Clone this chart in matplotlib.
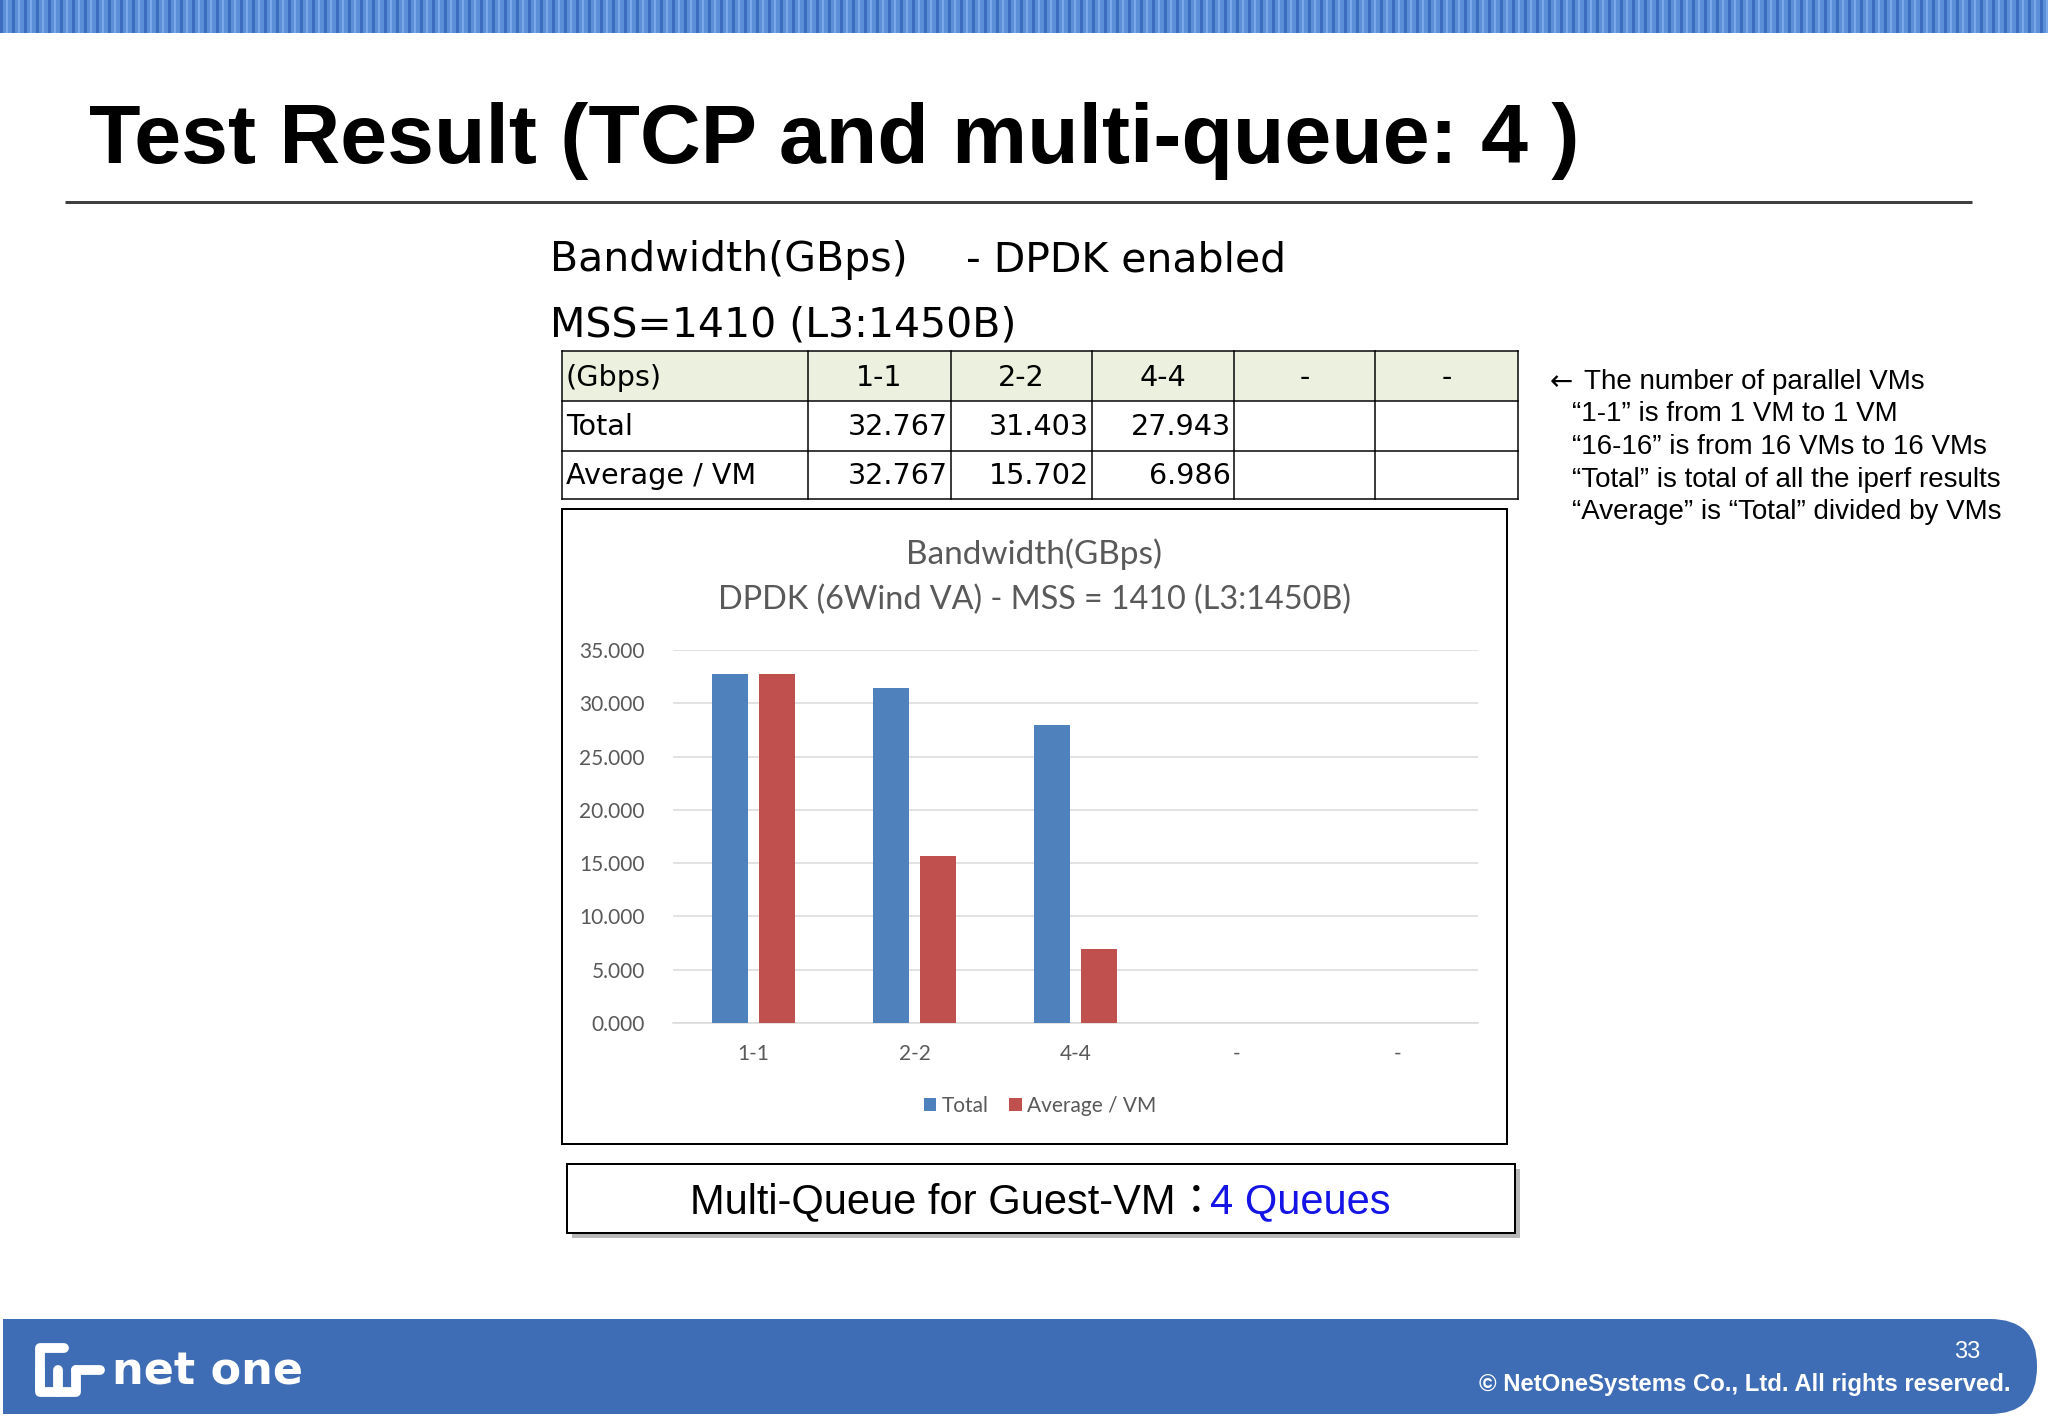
import numpy as np
import matplotlib
matplotlib.use("Agg")
import matplotlib.pyplot as plt
from matplotlib.patches import Rectangle, FancyBboxPatch, Patch

# ---------------- data ----------------
categories = ["1-1", "2-2", "4-4", "-", "-"]
total_vals = [32.767, 31.403, 27.943, np.nan, np.nan]
avg_vals = [32.767, 15.702, 6.986, np.nan, np.nan]
series_names = ["Total", "Average / VM"]
y_ticks = [0, 5, 10, 15, 20, 25, 30, 35]
slide_title = "Test Result (TCP and multi-queue: 4 )"
chart_title = ["Bandwidth(GBps)", "DPDK (6Wind VA) - MSS = 1410 (L3:1450B)"]
notes = ["The number of parallel VMs",
         "\u201c1-1\u201d is from 1 VM to 1 VM",
         "\u201c16-16\u201d is from 16 VMs to 16 VMs",
         "\u201cTotal\u201d is total of all the iperf results",
         "\u201cAverage\u201d is \u201cTotal\u201d divided by VMs"]

BLUE = "#4F81BD"
RED = "#C0504D"
GRAY = "#595959"

W, H = 2048, 1418
fig = plt.figure(figsize=(W / 100, H / 100), dpi=100)
bg = fig.add_axes([0, 0, 1, 1])
bg.set_xlim(0, W)
bg.set_ylim(H, 0)
bg.axis("off")

PX = 0.72  # points per pixel

# ---------- top striped banner ----------
bg.add_patch(Rectangle((0, 0), W, 33, facecolor="#5B8FD8", edgecolor="none"))
for x in range(0, W, 12):
    bg.add_patch(Rectangle((x, 0), 3, 33, facecolor="#3A6DBE", edgecolor="none"))
    bg.add_patch(Rectangle((x + 6, 0), 2, 33, facecolor="#7AA8E8", edgecolor="none"))

# ---------- title ----------
bg.text(89, 163, slide_title, fontsize=60.7, fontweight="bold",
        family=["Liberation Sans", "DejaVu Sans"], color="black", va="baseline", ha="left")
bg.plot([65, 1972], [202, 202], color="#3F3F3F", lw=3 * PX, solid_capstyle="butt")

# ---------- heading ----------
hfont = ["DejaVu Sans"]
bg.text(550, 271, "Bandwidth(GBps)", fontsize=29.5, family=hfont, va="baseline")
bg.text(966, 271, "- DPDK enabled", fontsize=29.5, family=hfont, va="baseline")
bg.text(550, 337, "MSS=1410 (L3:1450B)", fontsize=29.5, family=hfont, va="baseline")

# ---------- table ----------
col_x = [562, 808, 951, 1092, 1234, 1375, 1518]
row_y = [351, 401, 451, 499]
bg.add_patch(Rectangle((col_x[0], row_y[0]), col_x[-1] - col_x[0], row_y[1] - row_y[0],
                       facecolor="#EBF1DE", edgecolor="none"))
for x in col_x:
    bg.plot([x, x], [row_y[0], row_y[-1]], color="black", lw=1.5 * PX)
for y in row_y:
    bg.plot([col_x[0], col_x[-1]], [y, y], color="black", lw=1.5 * PX)
tfont = ["DejaVu Sans"]
TS = 20.6
header = ["(Gbps)"] + categories
for j, txt in enumerate(header):
    yc = (row_y[0] + row_y[1]) / 2 + 2
    if j == 0:
        bg.text(col_x[0] + 4, yc, txt, fontsize=TS, family=tfont, va="center", ha="left")
    else:
        bg.text((col_x[j] + col_x[j + 1]) / 2, yc, txt, fontsize=TS, family=tfont,
                va="center", ha="center")
for i, (name, vals) in enumerate(zip(series_names, [total_vals, avg_vals])):
    yc = (row_y[i + 1] + row_y[i + 2]) / 2 + 1
    bg.text(col_x[0] + 4, yc, name, fontsize=TS, family=tfont, va="center", ha="left")
    for j, v in enumerate(vals):
        if not np.isnan(v):
            bg.text(col_x[j + 2] - 3, yc, f"{v:.3f}", fontsize=TS, family=tfont,
                    va="center", ha="right")

# ---------- notes on the right ----------
note_y = [382, 414, 447, 480, 512]
bg.text(1550, note_y[0], "\u2190", fontsize=20, family=["DejaVu Sans"], va="center", ha="left")
for k, (line, y) in enumerate(zip(notes, note_y)):
    bg.text(1584 if k == 0 else 1572, y, line, fontsize=20,
            family=["Liberation Sans", "DejaVu Sans"], va="center", ha="left")

# ---------- chart frame ----------
bg.add_patch(Rectangle((562, 509), 1507 - 562, 1144 - 509, facecolor="white",
                       edgecolor="black", lw=2 * PX))
cfont = ["Lato", "DejaVu Sans"]
bg.text(1034, 554, chart_title[0], fontsize=24, family=cfont, color=GRAY, ha="center", va="center")
bg.text(1034, 600, chart_title[1], fontsize=23.3, family=cfont, color=GRAY, ha="center", va="center")

# ---------- bar chart ----------
x0, x1, yb, yt = 673, 1478, 1023, 650
ax = fig.add_axes([x0 / W, 1 - yb / H, (x1 - x0) / W, (yb - yt) / H])
ax.set_zorder(5)
ax.patch.set_alpha(0)
xpos = np.arange(len(categories))
bw = 0.225
off = 0.145
ax.bar(xpos - off, total_vals, width=bw, color=BLUE, label=series_names[0], zorder=3)
ax.bar(xpos + off, avg_vals, width=bw, color=RED, label=series_names[1], zorder=3)
ax.set_xlim(-0.5, len(categories) - 0.5)
ax.set_ylim(0, 35)
ax.set_yticks(y_ticks)
ax.set_yticklabels([f"{t:.3f}" for t in y_ticks])
ax.set_xticks(xpos)
ax.set_xticklabels(categories)
ax.yaxis.grid(True, color="#D9D9D9", lw=1.5 * PX, zorder=0)
ax.set_axisbelow(True)
for s in ["top", "left", "right"]:
    ax.spines[s].set_visible(False)
ax.spines["bottom"].set_color("#D9D9D9")
ax.spines["bottom"].set_linewidth(1.5 * PX)
ax.tick_params(axis="both", length=0, labelsize=15, labelcolor=GRAY)
ax.tick_params(axis="y", pad=28 * PX)
ax.tick_params(axis="x", pad=21 * PX)
for lab in ax.get_xticklabels() + ax.get_yticklabels():
    lab.set_family(cfont)

handles = [Patch(facecolor=BLUE), Patch(facecolor=RED)]
fig.legend(handles, series_names, loc="center", bbox_to_anchor=(1040 / W, 1 - 1106 / H),
           ncol=2, frameon=False, prop={"family": cfont, "size": 15},
           labelcolor=GRAY, handlelength=0.6, handleheight=0.6, handletextpad=0.25,
           columnspacing=1.0)

# ---------- bottom box ----------
bg.add_patch(Rectangle((572, 1169), 1515 - 567, 1233 - 1164, facecolor="#A6A6A6",
                       edgecolor="none", alpha=0.8))
bg.add_patch(Rectangle((567, 1164), 1515 - 567, 1233 - 1164, facecolor="white",
                       edgecolor="black", lw=2 * PX))
bfont = ["Liberation Sans", "Noto Sans CJK JP"]
t1 = bg.text(690, 1202, "Multi-Queue for Guest-VM\uff1a", fontsize=30, family=bfont,
             va="center", ha="left", color="black")
bg.annotate("4 Queues", xy=(1, 0.5), xycoords=t1, xytext=(-5, 0), textcoords="offset points",
            va="center", ha="left", fontsize=30, family=bfont, color="#1414E6")

# ---------- footer ----------
FOOT = "#3E6DB5"
bg.add_patch(FancyBboxPatch((3, 1319), 2037 - 3, 1414 - 1319,
                            boxstyle="round,pad=0,rounding_size=47",
                            facecolor=FOOT, edgecolor="none"))
bg.add_patch(Rectangle((3, 1319), 100, 1414 - 1319, facecolor=FOOT, edgecolor="none"))
# logo glyph
lw_logo = 7 * PX * 1.4
bg.plot([40, 40, 64], [1388, 1348, 1348], color="white", lw=lw_logo,
        solid_capstyle="round", solid_joinstyle="round")
bg.plot([40, 40, 76, 76], [1370, 1392, 1392, 1370], color="white", lw=lw_logo,
        solid_capstyle="round", solid_joinstyle="round")
bg.plot([58, 58], [1370, 1392], color="white", lw=lw_logo, solid_capstyle="round")
bg.plot([76, 100], [1370, 1370], color="white", lw=lw_logo, solid_capstyle="round")
bg.text(112, 1372, "net one", fontsize=32, fontweight="bold", family=["DejaVu Sans"],
        color="white", va="center", ha="left")
bg.text(1967, 1352, "33", fontsize=17, family=["Liberation Sans"], color="white",
        va="center", ha="center")
bg.text(2011, 1385, "\u00a9 NetOneSystems Co., Ltd. All rights reserved.", fontsize=17.2,
        fontweight="bold", family=["Liberation Sans", "DejaVu Sans"], color="white",
        va="center", ha="right")

fig.savefig("out.png", dpi=100, facecolor="white")
